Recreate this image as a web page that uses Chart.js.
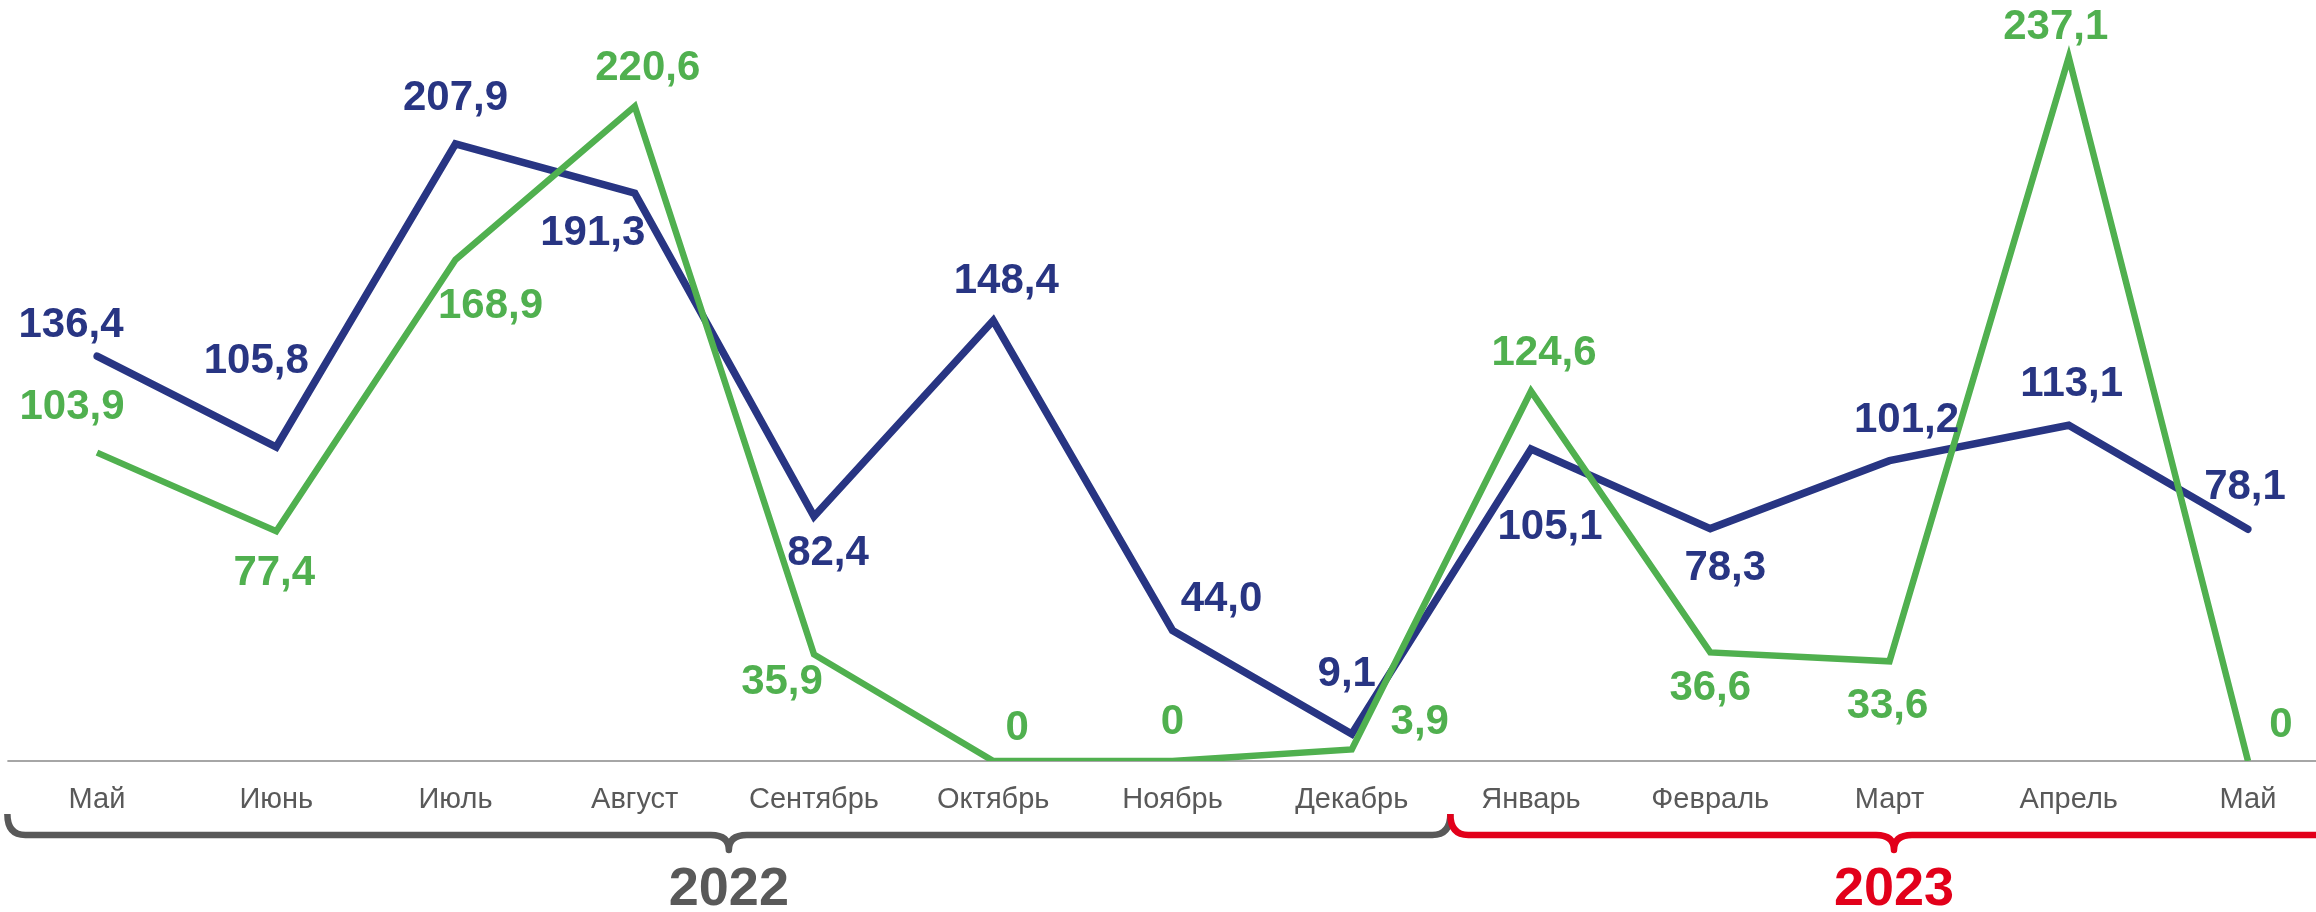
<!DOCTYPE html>
<html lang="ru">
<head>
<meta charset="utf-8">
<title>Динамика по месяцам</title>
<script src="https://cdn.jsdelivr.net/npm/chart.js@4.4.1/dist/chart.umd.min.js"></script>
<style>
  html, body { margin: 0; padding: 0; background: #ffffff; }
  #wrap { width: 2316px; height: 912px; position: relative; }
</style>
</head>
<body>
<div id="wrap"><canvas id="chart"></canvas></div>
<script>
//------------------------------------------------------------------------
// данные
const months = ["Май", "Июнь", "Июль", "Август", "Сентябрь", "Октябрь", "Ноябрь", "Декабрь", "Январь", "Февраль", "Март", "Апрель", "Май"];
const blueValues = [136.4, 105.8, 207.9, 191.3, 82.4, 148.4, 44.0, 9.1, 105.1, 78.3, 101.2, 113.1, 78.1];
const greenValues = [103.9, 77.4, 168.9, 220.6, 35.9, 0, 0, 3.9, 124.6, 36.6, 33.6, 237.1, 0];
const years = ["2022", "2023"];
const yearFirst = [0, 8];
const yearLast = [7, 12];

//------------------------------------------------------------------------
// оформление
const blue = "#283583";
const green = "#50b04f";
const gray = "#595959";
const red = "#e2001a";
const font = "'Liberation Sans', Arial, sans-serif";

// смещение подписи от точки (центр текста), px
const blueLabelShift = [[-26, -31], [-20, -86], [0, -46], [-42, 40], [14, 37], [13, -39], [49, -31], [-5, -60], [19, 78], [15, 40], [17, -40], [3, -41], [-3, -42]];
const greenLabelShift = [[-25, -45], [-2, 42], [35, 47], [13, -38], [-32, 28], [24, -33], [0, -39], [68, -27], [13, -38], [0, 36], [-2, 45], [-13, -30], [33, -36]];

// края скобок в долях шага между месяцами
const braceLeftPad = [0.5, 0.45];
const braceRightPad = [0.55, 0.5];

function formatValue(v) {
  if (v === 0) {
    return "0";
  }
  return v.toFixed(1).replace(".", ",");
}

// подписи значений, базовая линия, скобки с годами
const extras = {
  id: "extras",
  beforeDatasetsDraw(chart) {
    const ctx = chart.ctx;
    const x = chart.scales.x;
    const y = chart.scales.y;
    const step = x.getPixelForValue(1) - x.getPixelForValue(0);
    const y0 = y.getPixelForValue(0);
    ctx.save();
    ctx.strokeStyle = "#a6a6a6";
    ctx.lineWidth = 2;
    ctx.beginPath();
    ctx.moveTo(x.getPixelForValue(0) - step / 2, y0);
    ctx.lineTo(chart.width, y0);
    ctx.stroke();
    ctx.restore();
  },
  afterDatasetsDraw(chart) {
    const ctx = chart.ctx;
    const x = chart.scales.x;
    const step = x.getPixelForValue(1) - x.getPixelForValue(0);

    ctx.save();
    ctx.font = "bold 42px " + font;
    ctx.textAlign = "center";
    ctx.textBaseline = "middle";
    const sets = [
      { idx: 0, color: blue, shift: blueLabelShift, values: blueValues },
      { idx: 1, color: green, shift: greenLabelShift, values: greenValues },
    ];
    for (const s of sets) {
      const pts = chart.getDatasetMeta(s.idx).data;
      ctx.fillStyle = s.color;
      pts.forEach((p, i) => {
        ctx.fillText(formatValue(s.values[i]), p.x + s.shift[i][0], p.y + s.shift[i][1]);
      });
    }

    // фигурные скобки
    const yLine = 835;
    const yTop = 814;
    const yTip = 850;
    const r = 18;
    const colors = [gray, red];
    for (let k = 0; k < years.length; k++) {
      const x0 = x.getPixelForValue(yearFirst[k]) - step * braceLeftPad[k];
      const x1 = x.getPixelForValue(yearLast[k]) + step * braceRightPad[k];
      const xm = (x0 + x1) / 2;
      ctx.strokeStyle = colors[k];
      ctx.lineWidth = 6.5;
      ctx.lineJoin = "round";
      ctx.beginPath();
      ctx.moveTo(x0, yTop);
      ctx.quadraticCurveTo(x0, yLine, x0 + r, yLine);
      ctx.lineTo(xm - r, yLine);
      ctx.quadraticCurveTo(xm, yLine, xm, yTip);
      ctx.quadraticCurveTo(xm, yLine, xm + r, yLine);
      ctx.lineTo(x1 - r, yLine);
      ctx.quadraticCurveTo(x1, yLine, x1, yTop);
      ctx.stroke();

      ctx.fillStyle = colors[k];
      ctx.font = "bold 54px " + font;
      ctx.fillText(years[k], xm, 890);
    }
    ctx.restore();
  },
};

const chart = new Chart(document.getElementById("chart"), {
  type: "line",
  data: {
    labels: months,
    datasets: [
      {
        label: "Синяя",
        data: blueValues,
        borderColor: blue,
        borderWidth: 7.5,
        borderCapStyle: "round",
        borderJoinStyle: "miter",
        pointRadius: 0,
        tension: 0,
        order: 2,
      },
      {
        label: "Зелёная",
        data: greenValues,
        borderColor: green,
        borderWidth: 6.5,
        borderCapStyle: "butt",
        borderJoinStyle: "miter",
        pointRadius: 0,
        tension: 0,
        order: 1,
      },
    ],
  },
  options: {
    responsive: true,
    maintainAspectRatio: false,
    devicePixelRatio: 1,
    animation: false,
    layout: { padding: { top: 19, left: 97, right: 68, bottom: 0 } },
    plugins: {
      legend: { display: false },
      tooltip: { enabled: false },
    },
    scales: {
      x: {
        offset: false,
        grid: { display: false, drawTicks: false },
        border: { display: false },
        ticks: {
          color: gray,
          font: { family: font, size: 29 },
          padding: 22,
          maxRotation: 0,
          autoSkip: false,
        },
        afterFit: (scale) => {
          scale.height = 151;
        },
      },
      y: {
        display: false,
        min: 0,
        max: 250,
      },
    },
  },
  plugins: [extras],
});
</script>
</body>
</html>
